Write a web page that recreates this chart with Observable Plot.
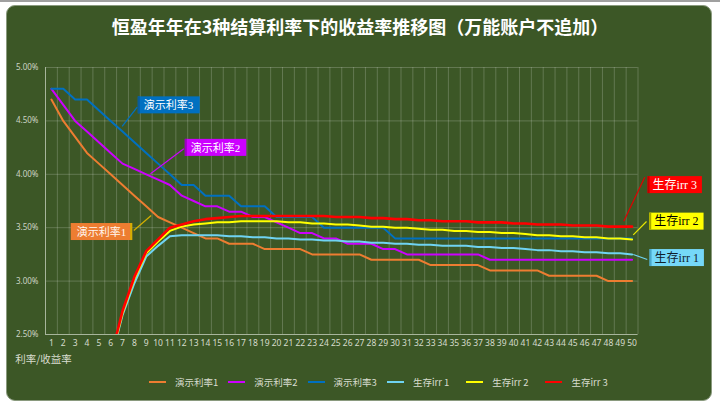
<!DOCTYPE html>
<html><head><meta charset="utf-8">
<script src="https://cdn.jsdelivr.net/npm/d3@7"></script>
<script src="https://cdn.jsdelivr.net/npm/@observablehq/plot@0.6"></script>
<style>
html,body{margin:0;padding:0;background:#fff;}
body{width:720px;height:408px;overflow:hidden;position:relative;font-family:"Noto Sans CJK SC","Noto Sans",sans-serif;}
#topline{position:absolute;left:0;top:0;width:720px;height:2px;background:#a0a0a0;}
#panel{position:absolute;left:6px;top:5px;width:706px;height:396px;background:#3C5726;border-radius:9px;border:1px solid #8a9a7e;box-sizing:border-box;}
#title{position:absolute;left:0;top:14px;width:720px;text-align:center;color:#fff;font-weight:bold;font-size:18px;line-height:24px;}
#chart{position:absolute;left:0;top:0;}
#legend{position:absolute;left:149px;top:374px;display:flex;height:16px;align-items:center;}
.item{display:flex;align-items:center;width:79.3px;}
.sw{width:17px;height:2px;margin-right:9px;}
.lt{font-size:9.5px;color:#d8dccf;white-space:nowrap;}
</style>
</head><body>
<div id="topline"></div>
<div id="panel"></div>
<div id="chart"></div>
<div id="title">恒盈年年在3种结算利率下的收益率推移图（万能账户不追加）</div>
<div id="legend"></div>
<script>
// ---- data ----
const years = d3.range(1, 51);
const yTicks = [2.5, 3.0, 3.5, 4.0, 4.5, 5.0];
const seriesNames = ["演示利率1", "演示利率2", "演示利率3", "生存irr 1", "生存irr 2", "生存irr 3"];

const rate1 = [4.70,4.50,4.35,4.20,4.10,4.00,3.90,3.80,3.70,3.60,
               3.55,3.50,3.45,3.40,3.40,3.35,3.35,3.35,3.30,3.30,
               3.30,3.30,3.25,3.25,3.25,3.25,3.25,3.20,3.20,3.20,
               3.20,3.20,3.15,3.15,3.15,3.15,3.15,3.10,3.10,3.10,
               3.10,3.10,3.05,3.05,3.05,3.05,3.05,3.00,3.00,3.00];
const rate2 = [4.80,4.65,4.50,4.40,4.30,4.20,4.10,4.05,4.00,3.95,
               3.90,3.80,3.75,3.70,3.70,3.65,3.65,3.60,3.60,3.55,
               3.50,3.45,3.45,3.40,3.40,3.35,3.35,3.35,3.30,3.30,
               3.25,3.25,3.25,3.25,3.25,3.25,3.25,3.20,3.20,3.20,
               3.20,3.20,3.20,3.20,3.20,3.20,3.20,3.20,3.20,3.20];
const rate3 = [4.80,4.80,4.70,4.70,4.60,4.50,4.40,4.30,4.20,4.10,
               4.00,3.90,3.90,3.80,3.80,3.80,3.70,3.70,3.70,3.60,
               3.60,3.60,3.60,3.50,3.50,3.50,3.50,3.50,3.50,3.40,
               3.40,3.40,3.40,3.40,3.40,3.40,3.40,3.40,3.40,3.40,
               3.40,3.40,3.40,3.40,3.40,3.40,3.40,3.40,3.40,3.40];
const irr1 = [null,null,null,null,null,2.25,2.68,2.98,3.23,3.33,
              3.42,3.43,3.43,3.43,3.43,3.42,3.42,3.41,3.41,3.40,
              3.40,3.39,3.39,3.38,3.38,3.37,3.37,3.36,3.36,3.35,
              3.35,3.34,3.34,3.33,3.33,3.33,3.32,3.32,3.31,3.31,
              3.30,3.29,3.29,3.28,3.28,3.27,3.27,3.26,3.26,3.25];
const irr2 = [null,null,null,null,null,2.26,2.70,3.02,3.26,3.37,
              3.47,3.51,3.53,3.54,3.55,3.55,3.56,3.56,3.56,3.56,
              3.55,3.55,3.54,3.54,3.53,3.53,3.52,3.51,3.51,3.50,
              3.50,3.49,3.48,3.48,3.47,3.47,3.46,3.46,3.45,3.45,
              3.44,3.43,3.43,3.42,3.42,3.41,3.41,3.40,3.40,3.39];
const irr3 = [null,null,null,null,null,2.28,2.72,3.04,3.28,3.39,
              3.50,3.53,3.56,3.58,3.59,3.60,3.61,3.61,3.61,3.61,
              3.61,3.61,3.61,3.61,3.60,3.60,3.60,3.59,3.59,3.58,
              3.58,3.57,3.57,3.56,3.56,3.56,3.55,3.55,3.55,3.54,
              3.54,3.53,3.53,3.53,3.52,3.52,3.52,3.51,3.51,3.51];
const seriesValues = [rate1, rate2, rate3, irr1, irr2, irr3];

// ---- styles ----
const lineColors = ["#ED7D31", "#CC00FF", "#0070C0", "#6FD3F2", "#FFFF00", "#FF0000"];
const lineWidths = [2, 2, 2, 2, 2, 2.6];

// annotation layout (label centre, leader start, leader end) in data units
const labelLayout = [
  {s: 2, cx: 10.88, cy: 4.641, ax: 8.24, ay: 4.628, bx: 6.97, by: 4.448, box: "#0070C0", edge: "#0a5a9a", line: "#0070C0", text: "#ffffff", side: "left"},
  {s: 1, cx: 14.85, cy: 4.243, ax: 12.17, ay: 4.239, bx: 9.36, by: 4.005, box: "#CC00FF", edge: "#9a00c0", line: "#CC00FF", text: "#ffffff", side: "left"},
  {s: 0, cx: 5.22, cy: 3.455, ax: 7.95, ay: 3.474, bx: 9.42, by: 3.614, box: "#ED7D31", edge: "#d4b000", line: "#d4b000", text: "#fff6ee", side: "right"},
  {s: 5, cx: 53.6, cy: 3.902, ax: 51.07, ay: 3.973, bx: 49.3, by: 3.561, box: "#FF0000", edge: "#c00000", line: "#E00000", text: "#ffffff", side: "left"},
  {s: 4, cx: 53.74, cy: 3.560, ax: 51.22, ay: 3.558, bx: 50.1, by: 3.433, box: "#FFFF00", edge: "#a8a800", line: "#E8E800", text: "#000000", side: "left"},
  {s: 3, cx: 53.77, cy: 3.219, ax: 51.28, ay: 3.202, bx: 50.1, by: 3.249, box: "#75D8F8", edge: "#4aa8cc", line: "#6FD3F2", text: "#10202c", side: "left"}
];

const xGrid = d3.range(0, 51).map(i => i + 0.5);

const lineMarks = seriesValues.map((vals, k) => {
  const pts = years.map((yr, i) => ({year: yr, value: vals[i]})).filter(d => d.value != null);
  return Plot.line(pts, {x: "year", y: "value", stroke: lineColors[k], strokeWidth: lineWidths[k], clip: true});
});

const plot = Plot.plot({
  width: 720,
  height: 372,
  marginLeft: 45,
  marginRight: 82.5,
  marginTop: 67,
  marginBottom: 38,
  x: {domain: [0.5, 50.5], axis: null},
  y: {domain: [2.5, 5.0], axis: null},
  color: {type: "identity"},
  style: {background: "transparent", overflow: "visible"},
  marks: [
    Plot.ruleX(xGrid, {x: d => d, stroke: "#ffffff", strokeOpacity: 0.2, strokeWidth: 1}),
    Plot.ruleY(yTicks, {y: d => d, stroke: "#ffffff", strokeOpacity: 0.2, strokeWidth: 1}),
    Plot.ruleX([0.5], {x: d => d, stroke: "#a7b59b", strokeWidth: 1}),
    Plot.ruleY([2.5], {y: d => d, stroke: "#a7b59b", strokeWidth: 1}),
    Plot.text(yTicks, {y: d => d, text: d => d.toFixed(2) + "%", frameAnchor: "left", dx: -7, textAnchor: "end", fill: "#cdd4c4", fontSize: 8, fontFamily: "Noto Sans, sans-serif"}),
    Plot.text(years, {x: d => d, text: d => String(d), frameAnchor: "bottom", dy: 11, fill: "#d6dccd", fontSize: 8.5, fontFamily: "Noto Sans, sans-serif"}),
    Plot.text(["利率/收益率"], {text: d => d, frameAnchor: "bottom-left", dx: -30.3, dy: 28.7, textAnchor: "start", fill: "#d8dccf", fontSize: 10.5, fontFamily: "Noto Sans CJK SC"}),
    ...lineMarks,
    Plot.link(labelLayout, {x1: "ax", y1: "ay", x2: "bx", y2: "by", stroke: "line", strokeWidth: 1.2}),
    Plot.text(labelLayout, {x: "cx", y: "cy", text: d => seriesNames[d.s], fill: "text", fontSize: d => d.s >= 3 ? 12 : 11,
      fontFamily: "Liberation Serif, Noto Sans CJK SC"})
  ]
});

document.getElementById("chart").append(plot);

// boxes behind annotation labels, sized from the rendered text
const labelNodes = Array.from(plot.querySelectorAll("text")).filter(t => seriesNames.includes(t.textContent));
labelNodes.forEach(node => {
  const a = labelLayout.find(l => seriesNames[l.s] === node.textContent);
  const bb = node.getBBox();
  const w = bb.width + (a.s >= 3 ? 10 : 12), h = 17;
  const cx = bb.x + bb.width / 2, cy = bb.y + bb.height / 2;
  const tr = node.getAttribute("transform");
  const ns = "http://www.w3.org/2000/svg";
  const r = document.createElementNS(ns, "rect");
  r.setAttribute("x", cx - w / 2); r.setAttribute("y", cy - h / 2);
  r.setAttribute("width", w); r.setAttribute("height", h);
  r.setAttribute("fill", a.box);
  const bar = document.createElementNS(ns, "rect");
  bar.setAttribute("x", a.side === "left" ? cx - w / 2 : cx + w / 2 - 2);
  bar.setAttribute("y", cy - h / 2);
  bar.setAttribute("width", 2); bar.setAttribute("height", h);
  bar.setAttribute("fill", a.edge);
  if (tr) { r.setAttribute("transform", tr); bar.setAttribute("transform", tr); }
  node.parentNode.insertBefore(r, node);
  node.parentNode.insertBefore(bar, node);
});

// legend
const legend = d3.select("#legend");
seriesNames.forEach((n, k) => {
  const it = legend.append("div").attr("class", "item");
  it.append("div").attr("class", "sw").style("background", lineColors[k]);
  it.append("div").attr("class", "lt").text(n);
});
</script>
</body></html>
